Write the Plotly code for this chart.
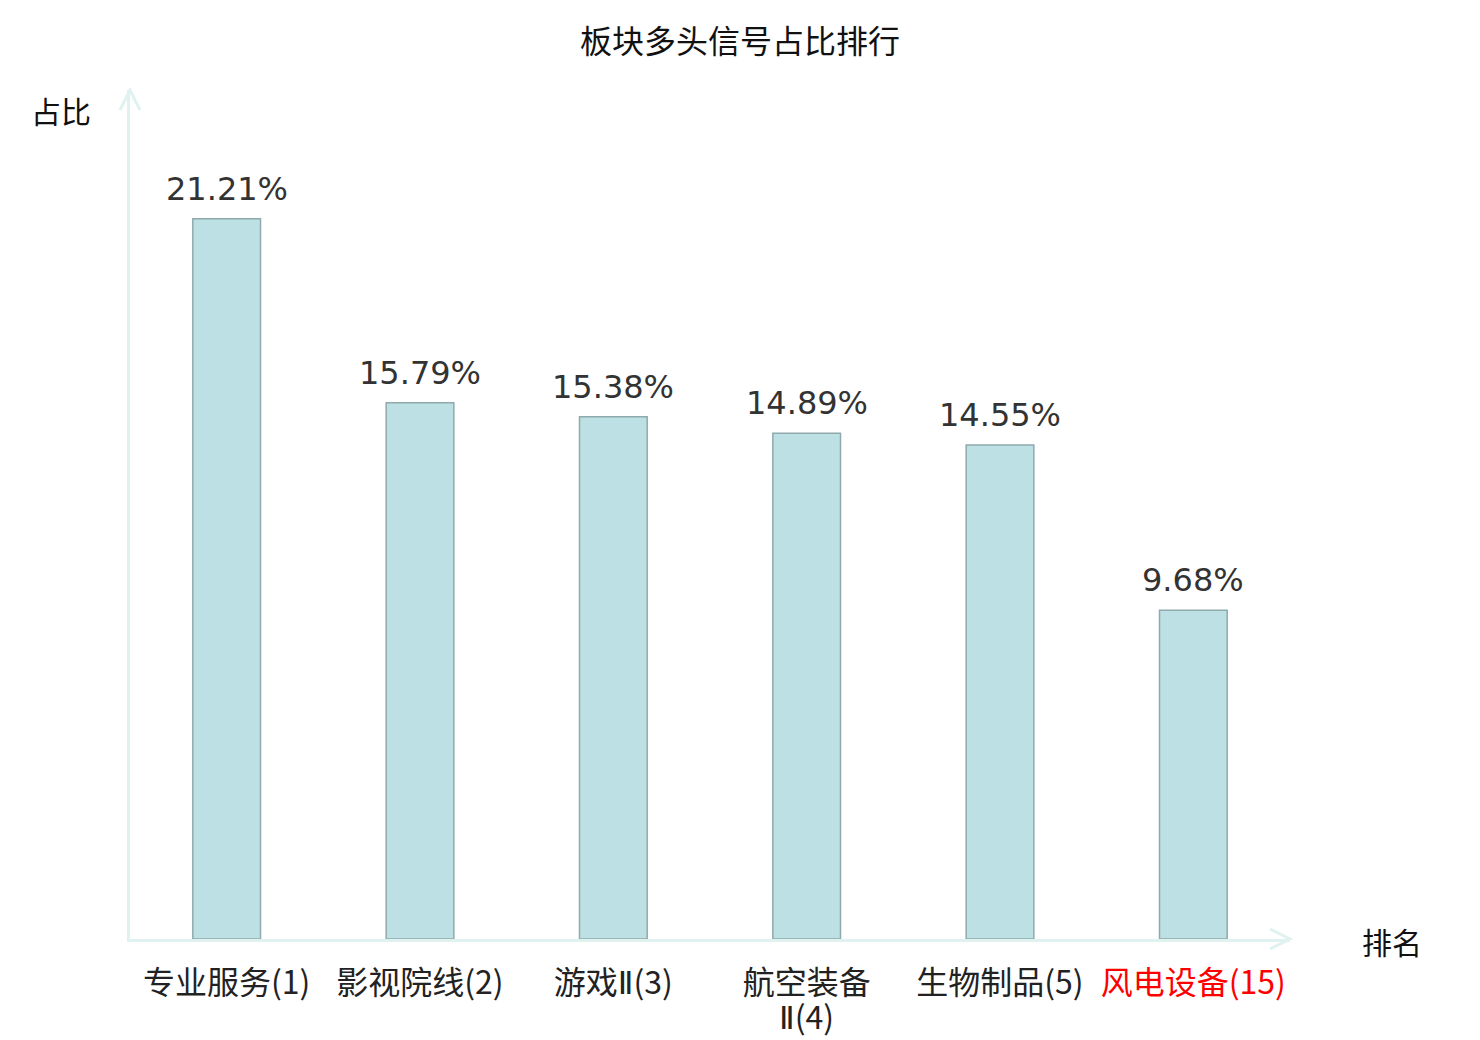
import plotly.graph_objects as go

# 板块多头信号占比排行
sectors = ["专业服务(1)", "影视院线(2)", "游戏Ⅱ(3)", "航空装备\nⅡ(4)", "生物制品(5)", "风电设备(15)"]
shares = [21.21, 15.79, 15.38, 14.89, 14.55, 9.68]
highlight = [False, False, False, False, False, True]

W, H = 1480, 1040
OFF = 8  # page body margin shifts the figure by this much
L, R, T, B = 130 - OFF, 190 + OFF, 90 - OFF, 101 + OFF
pw, ph = W - L - R, H - T - B

axis_color = "#dff2ef"
cjk = "Noto Sans CJK SC, DejaVu Sans, sans-serif"


def fmt_label(s, red):
    s = s.replace("Ⅱ", '<span style="font-family:DejaVu Sans">Ⅱ</span>')
    return f'<span style="color:#ff0000">{s}</span>' if red else s


def px_x(dx):
    return dx / pw


def px_y(dy):
    return dy / ph


xs = list(range(len(sectors)))
ticktext = []
wrapped = []  # second lines, drawn tighter than plotly's <br> spacing
for x, s, h in zip(xs, sectors, highlight):
    first, _, rest = s.partition("\n")
    ticktext.append(fmt_label(first, h))
    if rest:
        wrapped.append(dict(text=fmt_label(rest, h), x=x, xref="x", yref="paper", y=-px_y(76),
                            yanchor="middle", showarrow=False,
                            font=dict(family=cjk, size=32, color="#222222")))

fig = go.Figure()
fig.add_trace(go.Bar(
    x=xs,
    y=shares,
    width=0.35,
    marker=dict(color="#bce0e3", line=dict(color="#8eaaac", width=1.5)),
    showlegend=False,
    hovertemplate="%{y:.2f}%<extra></extra>",
))

# value labels above bars
labels = [
    dict(x=x, y=v, text=f"{v:.2f}%", xref="x", yref="y", yanchor="bottom", yshift=9,
         showarrow=False, font=dict(family="DejaVu Sans", size=32, color="#333333"))
    for x, v in zip(xs, shares)
]

# arrow heads on axes
shapes = [
    dict(type="path", xref="paper", yref="paper",
         path=f"M {-px_x(10)},{1 - px_y(20)} L 0,1 L {px_x(10)},{1 - px_y(20)}",
         line=dict(color=axis_color, width=3)),
    dict(type="path", xref="paper", yref="paper",
         path=f"M {1 - px_x(20)},{px_y(10)} L 1,0 L {1 - px_x(20)},{-px_y(10)}",
         line=dict(color=axis_color, width=3)),
]

fig.update_layout(
    width=W, height=H,
    margin=dict(l=L, r=R, t=T, b=B),
    plot_bgcolor="white", paper_bgcolor="white",
    title=dict(text="板块多头信号占比排行", xref="container", x=(740 - OFF) / W, xanchor="center",
               y=1 - (42 - OFF) / H, yanchor="middle",
               font=dict(family=cjk, size=32, color="#111111")),
    xaxis=dict(
        range=[-0.5, len(sectors) - 0.5],
        tickmode="array", tickvals=xs, ticktext=ticktext,
        tickfont=dict(family=cjk, size=32, color="#222222"),
        ticks="outside", ticklen=14, tickcolor="rgba(0,0,0,0)",
        showline=True, linecolor=axis_color, linewidth=3,
        showgrid=False, zeroline=False, automargin=False,
    ),
    yaxis=dict(
        range=[0, 25], showticklabels=False, ticks="",
        showline=True, linecolor=axis_color, linewidth=3,
        showgrid=False, zeroline=False, automargin=False,
    ),
    shapes=shapes,
    annotations=labels + wrapped + [
        dict(text="占比", xref="paper", yref="paper", x=-px_x(37), y=1 - px_y(20),
             xanchor="right", yanchor="middle", showarrow=False,
             font=dict(family=cjk, size=30, color="#111111")),
        dict(text="排名", xref="paper", yref="paper", x=1 + px_x(70), y=px_y(-2),
             xanchor="left", yanchor="middle", showarrow=False,
             font=dict(family=cjk, size=30, color="#111111")),
    ],
)

fig.write_html("out.html")
